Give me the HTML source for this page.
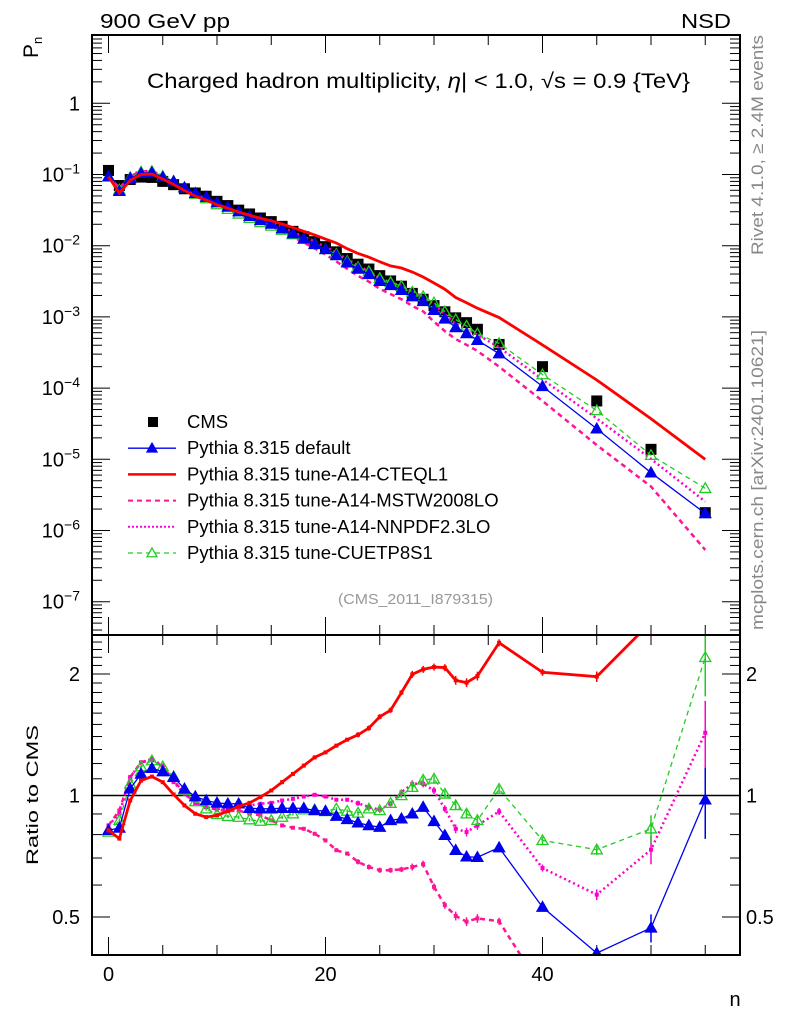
<!DOCTYPE html>
<html><head><meta charset="utf-8">
<style>
html,body{margin:0;padding:0;background:#fff;}
svg{display:block;font-family:"Liberation Sans",Arial,sans-serif;}
</style></head>
<body>
<svg id="chart" width="786" height="1024" viewBox="0 0 786 1024" xmlns="http://www.w3.org/2000/svg">
<defs>
<clipPath id="clipTop"><rect x="92" y="35" width="648" height="600"/></clipPath>
<clipPath id="clipBot"><rect x="92" y="635" width="648" height="320"/></clipPath>
</defs>
<g id="axes"></g>
<g id="topMarks" clip-path="url(#clipTop)"></g>
<g id="botMarks" clip-path="url(#clipBot)"></g>
<g id="frame"></g>
<text x="100" y="28" font-size="20" textLength="130" lengthAdjust="spacingAndGlyphs">900 GeV pp</text>
<text x="681" y="28" font-size="20" textLength="50" lengthAdjust="spacingAndGlyphs">NSD</text>
<text x="147" y="88" font-size="21" textLength="543" lengthAdjust="spacingAndGlyphs">Charged hadron multiplicity, <tspan font-style="italic">η</tspan>| &lt; 1.0, √s = 0.9 {TeV}</text>
<text transform="translate(38,58) rotate(-90)" font-size="21">P<tspan font-size="13" dy="4">n</tspan></text>
<text transform="translate(38,865) rotate(-90)" font-size="17" textLength="140" lengthAdjust="spacingAndGlyphs">Ratio to CMS</text>
<text x="735" y="1006" font-size="20" text-anchor="middle">n</text>
<text transform="translate(763,255) rotate(-90)" font-size="17" fill="#888" textLength="220" lengthAdjust="spacingAndGlyphs">Rivet 4.1.0, ≥ 2.4M events</text>
<text transform="translate(763,630) rotate(-90)" font-size="17" fill="#888" textLength="300" lengthAdjust="spacingAndGlyphs">mcplots.cern.ch [arXiv:2401.10621]</text>
<text x="338" y="604" font-size="15" fill="#999" textLength="155" lengthAdjust="spacingAndGlyphs">(CMS_2011_I879315)</text>
<g id="legend"></g>
</svg>
<script>
const nBins = [0,1,2,3,4,5,6,7,8,9,10,11,12,13,14,15,16,17,18,19,20,21,22,23,24,25,26,27,28,29,30,31,32,33,34,36,40,45,50,55];
const cmsValues = [0.114,0.070,0.085,0.092,0.091,0.080,0.072,0.063,0.055,0.0495,0.042,0.0366,0.0316,0.0279,0.0245,0.0218,0.0187,0.0159,0.0134,0.0114,0.0097,0.0082,0.0066,0.0055,0.0047,0.0038,0.0032,0.0027,0.00214,0.00177,0.00144,0.00118,0.00097,0.00083,0.00067,0.00041,0.00020,6.6e-5,1.38e-5,1.78e-6];
const ratioDefault = [0.820,0.831,1.039,1.131,1.168,1.146,1.110,1.039,0.994,0.972,0.959,0.954,0.954,0.930,0.927,0.927,0.930,0.930,0.930,0.918,0.915,0.889,0.873,0.856,0.843,0.835,0.868,0.876,0.901,0.936,0.863,0.797,0.732,0.705,0.703,0.743,0.529,0.407,0.47,0.976];
const ratioCTEQL1 = [0.820,0.782,0.972,1.089,1.114,1.079,1.006,0.945,0.901,0.884,0.893,0.915,0.939,0.959,0.991,1.029,1.079,1.131,1.186,1.243,1.279,1.329,1.375,1.414,1.469,1.567,1.627,1.799,1.996,2.054,2.081,2.074,1.929,1.904,1.977,2.39,2.02,1.97,2.69,5.6];
const ratioMSTW = [0.843,0.918,1.110,1.208,1.225,1.179,1.089,1.013,0.959,0.936,0.922,0.915,0.918,0.901,0.893,0.868,0.843,0.832,0.827,0.804,0.774,0.732,0.718,0.685,0.665,0.653,0.653,0.656,0.665,0.676,0.594,0.535,0.503,0.487,0.496,0.488,0.33,0.24,0.30,0.30];
const ratioNNPDF = [0.843,0.901,1.110,1.208,1.232,1.186,1.079,1.009,0.957,0.936,0.927,0.927,0.936,0.945,0.954,0.959,0.972,0.981,0.994,1.004,0.994,0.976,0.976,0.957,0.936,0.922,0.954,1.019,1.069,1.069,1.029,0.927,0.827,0.812,0.843,0.913,0.661,0.568,0.734,1.43];
const ratioCUETP8S1 = [0.812,0.868,1.069,1.179,1.220,1.179,1.114,1.033,0.966,0.927,0.898,0.888,0.884,0.871,0.864,0.868,0.884,0.901,0.922,0.922,0.913,0.927,0.915,0.905,0.927,0.918,0.957,1.0,1.048,1.093,1.099,1.009,0.945,0.901,0.868,1.037,0.774,0.734,0.827,2.2];
const mcRelErr = [0.01,0.01,0.01,0.01,0.01,0.01,0.01,0.01,0.01,0.01,0.01,0.01,0.01,0.01,0.01,0.01,0.01,0.01,0.01,0.01,0.01,0.01,0.01,0.015,0.015,0.015,0.015,0.015,0.02,0.02,0.02,0.02,0.025,0.025,0.025,0.02,0.02,0.03,0.08,0.2];
const topTicks = [1,-1,-2,-3,-4,-5,-6,-7];
const ratioTicks = ["2","1","0.5"];
const xTickLabels = [0,20,40];

const NS="http://www.w3.org/2000/svg";
const X0=108.5, XS=10.85;
const xs = n => X0 + XS*n;
const yTop = p => 103.3 - 71.2*Math.log10(p);
const yBot = r => 795.5 - 121.5*Math.log2(r);
function el(tag, attrs, parent){const e=document.createElementNS(NS,tag);for(const k in attrs)e.setAttribute(k,attrs[k]);parent.appendChild(e);return e;}
const axes=document.getElementById('axes'), topG=document.getElementById('topMarks'), botG=document.getElementById('botMarks'), frame=document.getElementById('frame'), leg=document.getElementById('legend');

let f1=el('rect',{x:92,y:35,width:648,height:600,fill:'none',stroke:'#000','stroke-width':2},frame);


let f2=el('rect',{x:92,y:635,width:648,height:320,fill:'none',stroke:'#000','stroke-width':2},frame);


let ref=el('line',{x1:92,x2:740,y1:yBot(1),y2:yBot(1),stroke:'#000','stroke-width':1.5},axes);



for(let n=0;n<=60;n+=5){const x=xs(n); if(x>740)break; const L=(n%20===0)?18:10;
 el('line',{x1:x,x2:x,y1:35,y2:35+L,stroke:'#000'},axes);
 el('line',{x1:x,x2:x,y1:635,y2:635-L,stroke:'#000'},axes);
 el('line',{x1:x,x2:x,y1:635,y2:635+L,stroke:'#000'},axes);
 el('line',{x1:x,x2:x,y1:955,y2:955-L,stroke:'#000'},axes);}
xTickLabels.forEach(v=>{const t=el('text',{x:xs(v),y:981,'font-size':20,'text-anchor':'middle'},axes);t.textContent=v;
 
 });
for(let d=0;d>=-8;d--){for(let m=1;m<=9;m++){const v=m*Math.pow(10,d);const y=yTop(v);if(y<35||y>635)continue;const L=m===1?18:10;
 el('line',{x1:92,x2:92+L,y1:y,y2:y,stroke:'#000'},axes);el('line',{x1:740,x2:740-L,y1:y,y2:y,stroke:'#000'},axes);}}
topTicks.forEach(d=>{const y=yTop(Math.pow(10,d>0?0:d));const t=el('text',{x:80,y:y+7,'font-size':20,'text-anchor':'end'},axes);
 if(d>0){t.textContent='1';}else{t.textContent='10';const s=el('tspan',{dy:-8,'font-size':14},t);s.textContent='−'+(-d);}
 
 });
for(let r=0.4;r<=2.6;r+=0.1){const rr=Math.round(r*10)/10;const y=yBot(rr);if(y<635||y>955)continue;const L=(rr===0.5||rr===1||rr===2)?18:10;
 el('line',{x1:92,x2:92+L,y1:y,y2:y,stroke:'#000'},axes);el('line',{x1:740,x2:740-L,y1:y,y2:y,stroke:'#000'},axes);}
ratioTicks.forEach(s=>{const y=yBot(parseFloat(s))+7;
 const a=el('text',{x:80,y:y,'font-size':20,'text-anchor':'end'},axes);a.textContent=s;
 
 
 const b=el('text',{x:746,y:y,'font-size':20},axes);b.textContent=s;
 
 });

function tri(g,x,y,s,fill,stroke){return el('polygon',{points:`${x},${y-s} ${x-s},${y+s*0.75} ${x+s},${y+s*0.75}`,fill:fill,stroke:stroke,'stroke-width':1.3},g);}

const series=[
 {name:'mstw2008lo',r:ratioMSTW,color:'#ff1493',w:2.5,dash:'5,4',marker:'dot'},
 {name:'nnpdf23lo',r:ratioNNPDF,color:'#ff00cc',w:2.5,dash:'2,3',marker:'dot'},
 {name:'cuetp8s1',r:ratioCUETP8S1,color:'#22cc22',w:1.3,dash:'5,4',marker:'open'},
 {name:'default',r:ratioDefault,color:'#0000ee',w:1.3,dash:null,marker:'tri'},
 {name:'cteql1',r:ratioCTEQL1,color:'#ff0000',w:2.8,dash:null,marker:'dot'}
];

nBins.forEach((n,i)=>{const s=el('rect',{x:xs(n)-5.5,y:yTop(cmsValues[i])-5.5,width:11,height:11,fill:'#000'},topG);
 
 });

series.forEach(sr=>{
 const ptsT=nBins.map((n,i)=>`${xs(n)},${yTop(cmsValues[i]*sr.r[i])}`).join(' ');
 const ptsB=nBins.map((n,i)=>`${xs(n)},${yBot(sr.r[i])}`).join(' ');
 const a={fill:'none',stroke:sr.color,'stroke-width':sr.w};if(sr.dash)a['stroke-dasharray']=sr.dash;
 const lt=el('polyline',Object.assign({points:ptsT},a),topG);
 
 
 const lb=el('polyline',Object.assign({points:ptsB},a),botG);
 
 
 nBins.forEach((n,i)=>{const x=xs(n);const yt=yTop(cmsValues[i]*sr.r[i]);const yb=yBot(sr.r[i]);
  const e=mcRelErr[i];
  el('line',{x1:x,x2:x,y1:yBot(sr.r[i]*(1+e)),y2:yBot(sr.r[i]*(1-e)),stroke:sr.color,'stroke-width':1.5},botG);
  if(sr.marker==='tri'){tri(topG,x,yt,5.5,sr.color,sr.color);tri(botG,x,yb,5.5,sr.color,sr.color);}
  else if(sr.marker==='open'){tri(topG,x,yt,5.5,'none',sr.color);tri(botG,x,yb,5.5,'none',sr.color);}
  else{el('rect',{x:x-2,y:yb-2,width:4,height:4,fill:sr.color},botG);}
 });
});

const legRows=[
 {label:'CMS',kind:'sq'},
 {label:'Pythia 8.315 default',color:'#0000ee',w:1.3,dash:null,m:'tri'},
 {label:'Pythia 8.315 tune-A14-CTEQL1',color:'#ff0000',w:2.5,dash:null},
 {label:'Pythia 8.315 tune-A14-MSTW2008LO',color:'#ff1493',w:2,dash:'5,4'},
 {label:'Pythia 8.315 tune-A14-NNPDF2.3LO',color:'#ff00cc',w:2,dash:'2,2'},
 {label:'Pythia 8.315 tune-CUETP8S1',color:'#22cc22',w:1.3,dash:'5,4',m:'open'}
];
legRows.forEach((r,i)=>{const y=422+26.2*i;
 const g=el('g',{},leg);
 
 
 if(r.kind==='sq'){el('rect',{x:148,y:y-5,width:10,height:10,fill:'#000'},g);}
 else{const a={x1:128,x2:176,y1:y,y2:y,stroke:r.color,'stroke-width':r.w};if(r.dash)a['stroke-dasharray']=r.dash;el('line',a,g);
  if(r.m==='tri')tri(g,152,y,5,r.color,r.color);if(r.m==='open')tri(g,152,y,5,'#fff',r.color);}
 const t=el('text',{x:187,y:y+6,'font-size':18.5},g);t.textContent=r.label;});
</script>
</body></html>
